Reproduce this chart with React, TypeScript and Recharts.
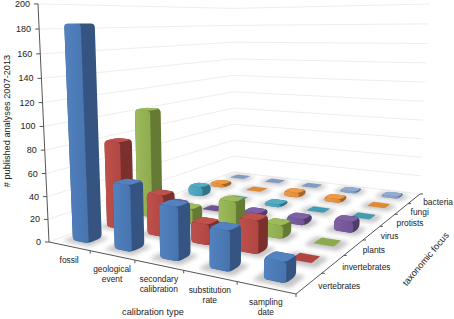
import { ScatterChart, Scatter, XAxis, YAxis, ReferenceLine } from 'recharts';

const W = 454;
const H = 319;

const categories = ['fossil', 'geological event', 'secondary calibration', 'substitution rate', 'sampling date'];
const focusNames = ['vertebrates', 'invertebrates', 'plants', 'virus', 'protists', 'fungi', 'bacteria'];
const valueTicks = [0, 20, 40, 60, 80, 100, 120, 140, 160, 180, 200];

// one list per taxonomic focus, in calibration type order
const vertebrates = [184, 56, 44, 32, 16];
const invertebrates = [80, 37, 18, 28, 1];
const plants = [103, 14, 27, 12, 1];
const virus = [2, 1, 5, 6, 10];
const protists = [10, 1, 3, 1, 1];
const fungi = [4, 1, 5, 4, 1];
const bacteria = [1, 1, 1, 2, 2];

const seriesValues = [vertebrates, invertebrates, plants, virus, protists, fungi, bacteria];
const seriesColors = ['#4674ae', '#b04541', '#8dab4e', '#6f5494', '#439cb4', '#e08a36', '#829bc4'];
const seriesDark = ['#355482', '#7c302d', '#657b35', '#4f3c69', '#327386', '#a46528', '#62759a'];
const seriesLight = ['#5382c0', '#bf514c', '#9dbb5a', '#7e61a4', '#51aec6', '#ee9a48', '#92abd4'];

// floor corners on the page: front left, front right, back right, back left
const corners = [[49, 242], [296, 294], [420, 194], [233, 172]];
const vanish = [229, 4130];
const lift = -0.0577;

function makeProjection() {
  const [[x0, y0], [x1, y1], [x2, y2], [x3, y3]] = corners;
  const dx1 = x1 - x2, dx2 = x3 - x2, sx = x0 - x1 + x2 - x3;
  const dy1 = y1 - y2, dy2 = y3 - y2, sy = y0 - y1 + y2 - y3;
  const den = dx1 * dy2 - dx2 * dy1;
  const g = (sx * dy2 - dx2 * sy) / den;
  const h = (dx1 * sy - sx * dy1) / den;
  const a = x1 - x0 + g * x1, b = x3 - x0 + h * x3;
  const d = y1 - y0 + g * y1, e = y3 - y0 + h * y3;
  return (u: number, v: number, value = 0) => {
    const t = (value / 200) * lift;
    const w = g * u + h * v + 1 + t;
    return {
      x: (a * u + b * v + x0 + t * vanish[0]) / w,
      y: (d * u + e * v + y0 + t * vanish[1]) / w,
    };
  };
}
const project = makeProjection();

type Pt = { x: number; y: number };

function roundedPath(pts: Pt[], r: number) {
  const n = pts.length;
  let out = '';
  pts.forEach((p, i) => {
    const prev = pts[(i + n - 1) % n];
    const next = pts[(i + 1) % n];
    const l1 = Math.hypot(prev.x - p.x, prev.y - p.y) || 1;
    const l2 = Math.hypot(next.x - p.x, next.y - p.y) || 1;
    const r1 = Math.min(r, l1 / 2), r2 = Math.min(r, l2 / 2);
    const sx = p.x + ((prev.x - p.x) / l1) * r1, sy = p.y + ((prev.y - p.y) / l1) * r1;
    const ex = p.x + ((next.x - p.x) / l2) * r2, ey = p.y + ((next.y - p.y) / l2) * r2;
    out += `${i === 0 ? 'M' : 'L'}${sx} ${sy}Q${p.x} ${p.y} ${ex} ${ey}`;
  });
  return out + 'Z';
}

const BAR_SIZE = 0.38;

function barShape(props: any) {
  const { cat, row, value, color, dark, light, idx } = props.payload;
  const cu = 1 / categories.length, cv = 1 / focusNames.length;
  const u0 = (cat + 0.5 - BAR_SIZE / 2) * cu, u1 = (cat + 0.5 + BAR_SIZE / 2) * cu;
  const v0 = (row + 0.5 - BAR_SIZE / 2) * cv, v1 = (row + 0.5 + BAR_SIZE / 2) * cv;
  const A = project(u0, v0), B = project(u1, v0), C = project(u1, v1);
  const A2 = project(u0, v0, value), B2 = project(u1, v0, value), C2 = project(u1, v1, value), D2 = project(u0, v1, value);
  const pad = 0.07;
  const shadow = [
    project(u0 - pad * cu * 2, v0 - pad * cv * 2),
    project(u1 + pad * cu * 2, v0 - pad * cv * 2),
    project(u1 + pad * cu * 2, v1 + pad * cv),
    project(u0 - pad * cu * 2, v1 + pad * cv),
  ];
  const flat = value <= 1;
  return (
    <g>
      <path d={roundedPath(shadow, 3)} fill="#777" opacity={0.42} filter="url(#soft)" />
      {flat ? (
        <path d={roundedPath([A2, B2, C2, D2], 1)} fill={color} stroke={dark} strokeOpacity={0.3} strokeWidth={0.5} />
      ) : (
        <>
          <path d={roundedPath([A, B, C, C2, D2, A2], 4)} fill={dark} />
          <path d={roundedPath([A, B, B2, A2], 3)} fill={`url(#front${idx})`} />
          <path d={roundedPath([A2, B2, C2, D2], 3)} fill={light} />
          <line x1={B.x} y1={B.y - 2} x2={B2.x} y2={B2.y + 2} stroke={light} strokeOpacity={0.35} strokeWidth={1} />
        </>
      )}
    </g>
  );
}

function textShape(props: any) {
  const { lines, anchor, size, rotate, x, y } = props.payload;
  return (
    <text
      x={x}
      y={y}
      textAnchor={anchor}
      fontSize={size}
      fontFamily="'Liberation Sans', Arial, sans-serif"
      fill="#222"
      transform={rotate ? `rotate(${rotate} ${x} ${y})` : undefined}
    >
      {lines.map((line: string, i: number) => (
        <tspan key={i} x={x} dy={i === 0 ? 0 : 10}>{line}</tspan>
      ))}
    </text>
  );
}

const valueLabels = valueTicks.map((t) => {
  const p = project(0, 0, t);
  return { x: p.x - 8, y: p.y + 3, lines: [String(t)], anchor: 'end', size: 9 };
});
const categoryLabels = categories.map((name, i) => {
  const p = project((i + 0.5) / categories.length, 0);
  return { x: p.x, y: p.y + 17, lines: name.split(' '), anchor: 'middle', size: 8.4 };
});
const focusLabels = focusNames.map((name, j) => {
  const p = project(1, (j + 0.5) / focusNames.length);
  return { x: p.x + 9, y: p.y + 6, lines: [name], anchor: 'start', size: 8.4 };
});
const titleLabels = [
  { x: 10, y: 121, lines: ['# published analyses 2007-2013'], anchor: 'middle', size: 9.2, rotate: -90 },
  { x: 153, y: 315, lines: ['calibration type'], anchor: 'middle', size: 9.2 },
  { x: 428, y: 261, lines: ['taxonomic focus'], anchor: 'middle', size: 9.2, rotate: -50 },
];

const rowsBackToFront = seriesValues
  .map((values, row) => ({
    row,
    data: values.map((value, cat) => ({
      ...project((cat + 0.5) / categories.length, (row + 0.5) / focusNames.length),
      cat,
      row,
      value,
      idx: row,
      color: seriesColors[row],
      dark: seriesDark[row],
      light: seriesLight[row],
    })),
  }))
  .reverse();

const seg = (a: Pt, b: Pt) => [{ x: a.x, y: a.y }, { x: b.x, y: b.y }] as any;

export default function App() {
  return (
    <div style={{ position: 'absolute', left: 0, top: 0 }}>
      <ScatterChart width={W} height={H} margin={{ top: 0, right: 0, bottom: 0, left: 0 }}>
        <defs>
          <filter id="soft" x="-50%" y="-50%" width="200%" height="200%">
            <feGaussianBlur stdDeviation="2" />
          </filter>
          {seriesColors.map((c, i) => (
            <linearGradient key={c} id={`front${i}`} x1="0" y1="0" x2="1" y2="0">
              <stop offset="0%" stopColor={seriesLight[i]} />
              <stop offset="100%" stopColor={seriesColors[i]} />
            </linearGradient>
          ))}
        </defs>
        <XAxis type="number" dataKey="x" domain={[0, W]} hide />
        <YAxis type="number" dataKey="y" domain={[0, H]} reversed hide width={0} />
        {valueTicks.map((t) => (
          <ReferenceLine key={`l${t}`} segment={seg(project(0, 0, t), project(0, 1, t))} stroke="#eeeeee" strokeWidth={1} />
        ))}
        {valueTicks.map((t) => (
          <ReferenceLine key={`b${t}`} segment={seg(project(0, 1, t), project(1, 1, t))} stroke="#eeeeee" strokeWidth={1} ifOverflow="visible" />
        ))}
        <ReferenceLine segment={seg(project(0, 0, 0), project(0, 0, 200))} stroke="#555" strokeWidth={1} />
        <ReferenceLine segment={seg(project(0, 0), project(1, 0))} stroke="#555" strokeWidth={1} />
        <ReferenceLine segment={seg(project(1, 0), project(1, 1))} stroke="#555" strokeWidth={1} />
        {valueTicks.map((t) => {
          const p = project(0, 0, t);
          return <ReferenceLine key={`t${t}`} segment={seg(p, { x: p.x - 4, y: p.y })} stroke="#555" strokeWidth={1} />;
        })}
        {categories.map((_, i) => {
          const p = project((i + 1) / categories.length, 0);
          return <ReferenceLine key={`c${i}`} segment={seg(p, { x: p.x, y: p.y + 3 })} stroke="#555" strokeWidth={1} />;
        })}
        {focusNames.map((_, j) => {
          const p = project(1, (j + 1) / focusNames.length);
          return <ReferenceLine key={`f${j}`} segment={seg(p, { x: p.x + 3, y: p.y })} stroke="#555" strokeWidth={1} />;
        })}
        {rowsBackToFront.map((r) => (
          <Scatter key={r.row} data={r.data} shape={barShape} isAnimationActive={false} />
        ))}
        <Scatter data={[...valueLabels, ...categoryLabels, ...focusLabels, ...titleLabels]} shape={textShape} isAnimationActive={false} />
      </ScatterChart>
    </div>
  );
}
